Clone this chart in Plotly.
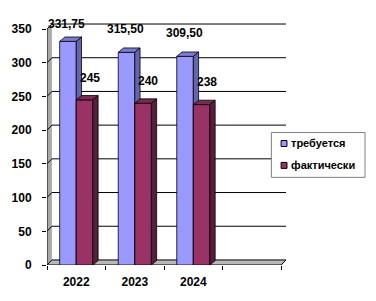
import plotly.graph_objects as go

# ---- data ----
categories = ["2022", "2023", "2024"]
required = [331.75, 315.50, 309.50]
actual = [245, 240, 238]
required_labels = ["331,75", "315,50", "309,50"]
actual_labels = ["245", "240", "238"]
series_names = ["требуется", "фактически"]
y_ticks = [0, 50, 100, 150, 200, 250, 300, 350]
n_slots = 4  # Excel chart has an empty fourth category slot

# ---- style ----
W, H = 376, 301
ML, MR, MT, MB = 41, 90, 21, 35
FONT = "Liberation Sans, Arial, sans-serif"
BLUE = dict(front="#9999FF", top="#7B7BD2", side="#6464B0")
RED = dict(front="#993366", top="#7A2952", side="#5A1E3D")
BAR_W = 0.283
BAR_DX, BAR_DY = 0.09, 6.5      # 3-D depth of bars (x units, y units)
WALL_DX, WALL_DY = 0.0833, 7.5  # 3-D depth of walls
YMAX = 362
x_lo, x_hi = -0.5, n_slots - 0.5
y_top = max(y_ticks)


def px(xp):
    return (xp - ML) / (W - ML - MR)


def py(yp):
    return (H - MB - yp) / (H - MT - MB)


def polys(vals, offset):
    fx, fy, tx, ty, sx, sy = [], [], [], [], [], []
    for i, v in enumerate(vals):
        x0 = i + offset
        x1 = x0 + BAR_W
        fx += [x0, x1, x1, x0, x0, None]
        fy += [0, 0, v, v, 0, None]
        tx += [x0, x1, x1 + BAR_DX, x0 + BAR_DX, x0, None]
        ty += [v, v, v + BAR_DY, v + BAR_DY, v, None]
        sx += [x1, x1 + BAR_DX, x1 + BAR_DX, x1, x1, None]
        sy += [0, BAR_DY, v + BAR_DY, v, 0, None]
    return (fx, fy), (tx, ty), (sx, sy)


fig = go.Figure()


def poly(xs, ys, fill, line="black", lw=0.8):
    fig.add_trace(go.Scatter(x=xs, y=ys, mode="lines", fill="toself",
                             fillcolor=fill, line=dict(color=line, width=lw),
                             hoverinfo="skip", showlegend=False))


def line(xs, ys, color="black", lw=1):
    fig.add_trace(go.Scatter(x=xs, y=ys, mode="lines",
                             line=dict(color=color, width=lw),
                             hoverinfo="skip", showlegend=False))


# walls
poly([x_lo, x_lo + WALL_DX, x_lo + WALL_DX, x_lo, x_lo],
     [0, WALL_DY, y_top + WALL_DY, y_top, 0], "#A9A9A9", line="#A9A9A9", lw=0)
poly([x_lo, x_hi, x_hi + WALL_DX, x_lo + WALL_DX, x_lo],
     [0, 0, WALL_DY, WALL_DY, 0], "#B8B8B8", line="#B8B8B8", lw=0)

# gridlines on back wall
gx, gy = [], []
for t in y_ticks:
    gx += [x_lo, x_lo + WALL_DX, x_hi + WALL_DX, None]
    gy += [t, t + WALL_DY, t + WALL_DY, None]
line(gx, gy, "#000000", 1)

# axis lines
line([x_lo, x_lo], [0, y_top], "#000000", 1)
line([x_lo, x_hi, x_hi + WALL_DX], [0, 0, WALL_DY], "#000000", 1)

# bars
for vals, off, col in [(required, -BAR_W, BLUE), (actual, 0.0, RED)]:
    f, t, s = polys(vals, off)
    poly(*f, col["front"])
    poly(*t, col["top"])
    poly(*s, col["side"])

ann = []
lab_font = dict(family=FONT, size=12, color="black", weight="bold")
for i, v in enumerate(required):
    ann.append(dict(x=i - BAR_W / 2, y=min(v + 34, 358), text=required_labels[i],
                    showarrow=False, font=lab_font, xshift=-1,
                    xanchor="center", yanchor="middle"))
for i, v in enumerate(actual):
    ann.append(dict(x=i + BAR_W / 2, y=v + 33, text=actual_labels[i],
                    showarrow=False, font=lab_font, xshift=5,
                    xanchor="center", yanchor="middle"))

# manual legend (Excel style)
shapes = [dict(type="rect", xref="paper", yref="paper",
               x0=px(271), x1=px(367), y0=py(178), y1=py(133),
               line=dict(color="#808080", width=1), fillcolor="white", layer="above")]
leg_font = dict(family=FONT, size=11, color="black", weight="bold")
for name, col, yc in [(series_names[0], BLUE["front"], 144), (series_names[1], RED["front"], 166)]:
    shapes.append(dict(type="rect", xref="paper", yref="paper",
                       x0=px(281), x1=px(287), y0=py(yc + 3), y1=py(yc - 3),
                       line=dict(color="black", width=1), fillcolor=col, layer="above"))
    ann.append(dict(xref="paper", yref="paper", x=px(289), y=py(yc), text=name,
                    showarrow=False, font=leg_font, xanchor="left", yanchor="middle"))

fig.update_layout(
    width=W, height=H,
    margin=dict(l=ML, r=MR, t=MT, b=MB),
    paper_bgcolor="white", plot_bgcolor="white",
    showlegend=False,
    shapes=shapes, annotations=ann,
    xaxis=dict(range=[x_lo, x_hi + WALL_DX], tickmode="array",
               tickvals=list(range(len(categories))), ticktext=categories,
               ticks="", showgrid=False, zeroline=False, showline=False,
               tickfont=dict(family=FONT, size=12, color="black", weight="bold"),
               ticklabelstandoff=8,
               minor=dict(tickmode="array",
                          tickvals=[x_lo + k for k in range(n_slots + 1)],
                          ticks="outside", ticklen=4, tickcolor="black",
                          tickwidth=1, showgrid=False),
               fixedrange=True),
    yaxis=dict(range=[0, YMAX], tickmode="array", tickvals=y_ticks,
               ticks="outside", ticklen=4, tickcolor="black", tickwidth=1,
               showgrid=False, zeroline=False, showline=False,
               tickfont=dict(family=FONT, size=12, color="black", weight="bold"),
               ticklabelstandoff=8, fixedrange=True),
)

fig.write_html("out.html", config={"displayModeBar": False},
               post_script="document.body.style.margin='0';document.body.style.overflow='hidden';")
